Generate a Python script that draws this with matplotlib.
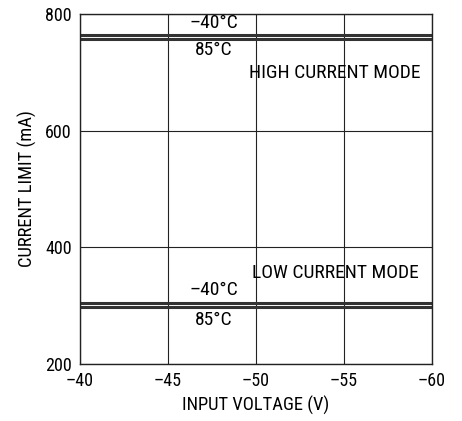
import matplotlib
matplotlib.use("Agg")
import matplotlib.pyplot as plt

plt.rcParams['font.family'] = ['Roboto Condensed', 'DejaVu Sans']

# data
voltage = [-40, -60]
high_m40 = [763, 763]
high_85 = [757, 757]
low_m40 = [304, 304]
low_85 = [298, 298]

x_ticks = [-40, -45, -50, -55, -60]
x_labels = ['\u201340', '\u201345', '\u201350', '\u201355', '\u201360']
y_ticks = [200, 400, 600, 800]

fig = plt.figure(figsize=(4.62, 4.21), dpi=100)
ax = fig.add_axes([0.173, 0.135, 0.762, 0.832])

line_color = '#333333'
for ys in (high_m40, high_85, low_m40, low_85):
    ax.plot(voltage, ys, color=line_color, lw=2.2, solid_capstyle='butt')

ax.set_xlim(-40, -60)
ax.set_ylim(200, 800)
ax.set_xticks(x_ticks)
ax.set_xticklabels(x_labels)
ax.set_yticks(y_ticks)
ax.tick_params(length=0, labelsize=13, pad=6)
ax.grid(True, color='#222222', lw=0.8)
for s in ax.spines.values():
    s.set_color('#222222')
    s.set_linewidth(1.0)

ax.set_xlabel('INPUT VOLTAGE (V)', fontsize=13.3, labelpad=4)
ax.set_ylabel('CURRENT LIMIT (mA)', fontsize=13.3, labelpad=6)

txt = dict(fontsize=14, ha='center', va='center')
ax.text(-47.6, 784, '\u201340\u00b0C', **txt)
ax.text(-47.6, 738, '85\u00b0C', **txt)
ax.text(-54.5, 699, 'HIGH CURRENT MODE', **txt)
ax.text(-54.5, 356, 'LOW CURRENT MODE', **txt)
ax.text(-47.6, 327, '\u201340\u00b0C', **txt)
ax.text(-47.6, 275, '85\u00b0C', **txt)

fig.savefig('out.png', dpi=100)
